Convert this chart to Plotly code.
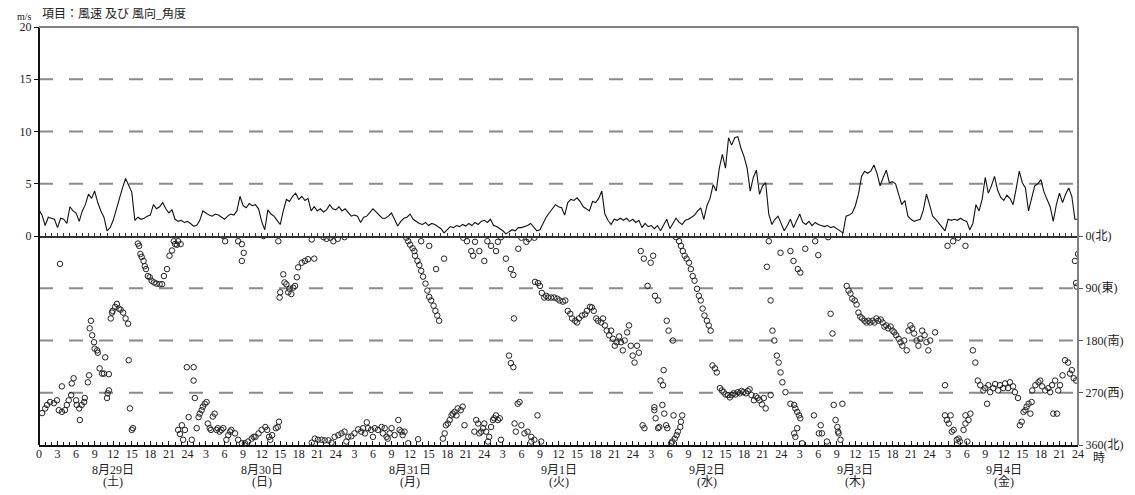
import plotly.graph_objects as go

# ---------------- data ----------------
# wind speed (m/s), 30-minute steps, one list per day (hour 0.0 ... 23.5)
speed_0829 = [2.5, 2.0, 1.0, 1.8, 1.7, 1.6, 0.8, 1.7, 1.6, 1.2,
              2.8, 2.4, 2.2, 1.4, 2.4, 3.0, 4.0, 3.6, 4.3, 3.2,
              2.4, 1.8, 0.5, 0.8, 1.5, 2.6, 3.5, 4.6, 5.5, 4.8,
              4.2, 1.5, 1.8, 1.6, 1.7, 1.9, 2.0, 3.0, 2.6, 2.8,
              3.2, 2.6, 2.2, 2.5, 1.6, 1.4, 1.5, 1.3]
speed_0830 = [1.4, 1.2, 0.95, 1.0, 1.5, 2.4, 2.2, 2.0, 1.9, 2.1,
              2.0, 1.8, 1.6, 1.9, 2.1, 2.0, 2.4, 3.8, 2.9, 2.7,
              3.1, 2.9, 3.0, 2.6, 1.4, 0.6, 2.5, 2.1, 1.9, 1.5,
              1.1, 2.4, 3.5, 3.3, 3.8, 4.1, 3.5, 3.8, 3.4, 3.6,
              2.4, 2.8, 2.4, 2.6, 2.3, 2.5, 3.0, 2.6]
speed_0831 = [2.5, 2.8, 2.4, 2.6, 2.3, 1.9, 2.0, 1.9, 1.3, 1.8,
              1.9, 2.2, 2.6, 2.3, 2.0, 1.7, 1.7, 1.9, 2.2, 1.5,
              0.95, 1.4, 1.7, 1.8, 2.1, 1.6, 1.4, 1.2, 1.1, 1.3,
              1.0, 1.2, 1.1, 0.9, 0.7, 0.3, 0.6, 0.9, 0.8, 1.0,
              0.9, 1.1, 0.95, 1.2, 1.0, 1.3, 1.1, 1.4]
speed_0901 = [1.5, 1.3, 1.6, 1.0, 0.9, 0.7, 0.5, 0.2, 0.4, 0.6,
              0.5, 0.8, 0.8, 0.9, 1.0, 1.2, 0.9, 0.5, 0.6, 1.2,
              1.8, 2.2, 2.6, 3.0, 2.8, 2.7, 2.0, 3.2, 3.5, 3.4,
              3.65, 3.3, 2.8, 2.6, 2.4, 3.3, 3.2, 3.6, 4.3, 2.1,
              1.5, 1.1, 1.6, 1.5, 1.7, 1.5, 1.7, 1.4]
speed_0902 = [1.6, 1.3, 1.5, 0.8, 1.2, 0.9, 1.0, 0.7, 1.0, 0.5,
              1.0, 1.6, 0.7, 1.2, 1.7, 1.3, 1.1, 1.5, 1.6, 1.8,
              2.0, 2.4, 2.7, 1.6, 2.9, 3.6, 4.9, 4.3, 6.5, 7.8,
              6.5, 9.4, 8.7, 9.4, 9.5, 8.4, 7.6, 6.5, 4.3, 5.6,
              6.3, 4.0, 4.8, 5.1, 2.1, 1.1, 1.6, 1.9]
speed_0903 = [1.2, 0.5, 1.0, 1.6, 0.8, 1.5, 2.1, 1.3, 1.1, 1.4,
              1.0, 1.3, 1.1, 1.0, 0.9, 1.0, 0.8, 0.9, 0.7, 0.5,
              0.3, 1.9, 2.0, 2.2, 2.9, 4.0, 5.7, 6.2, 6.0, 6.2,
              6.8, 6.0, 4.8, 5.6, 6.3, 5.1, 5.2, 5.0, 4.0, 3.0,
              3.4, 1.9, 1.6, 1.4, 1.5, 1.6, 2.5, 4.0]
speed_0904 = [3.0, 1.9, 1.6, 1.2, 0.8, 0.5, 1.6, 1.5, 1.6, 1.5,
              1.7, 1.5, 1.4, 0.6, 1.2, 3.0, 2.4, 3.5, 5.6, 4.1,
              4.8, 5.7, 4.4, 3.7, 3.4, 3.9, 3.6, 3.0, 4.5, 6.2,
              5.1, 4.6, 2.4, 3.5, 4.8, 5.0, 5.4, 4.2, 3.5, 2.8,
              1.4, 3.0, 4.1, 3.2, 4.0, 4.6, 3.8, 1.6]
speed_last = [1.6]  # hour 168

# wind direction (degrees), observation hour counted from 8/29 0:00
dir_hour = [
    # 8/29
    0.5, 1.0, 1.3, 1.8, 2.4, 2.9, 3.2, 3.7, 3.4, 3.7, 4.2, 4.5, 4.8, 5.2, 5.3, 5.6, 6.0, 6.1, 6.5, 6.6,
    6.9, 7.3, 7.4, 7.9, 8.1, 8.2, 8.4, 8.6, 8.9, 9.0, 9.4, 9.5, 9.8, 10.2, 10.5, 10.7, 11.0, 11.1, 11.3, 11.3,
    11.6, 11.8, 11.9, 12.3, 12.6, 12.9, 13.2, 13.6, 14.0, 14.4, 14.5, 14.7, 15.0, 15.2,
    16.0, 16.2, 16.4, 16.6, 16.9, 17.1, 17.3, 17.6, 17.9, 18.2, 18.6, 19.0, 19.5, 19.9, 20.2, 20.7, 21.1,
    21.5, 21.8, 22.0, 22.3, 22.5, 22.9,
    22.5, 22.8, 23.1, 23.3, 23.6, 23.9,
    # 8/30
    24.2, 24.7, 25.0, 25.0, 25.2, 25.5, 25.8, 26.0, 26.3, 26.5, 26.8, 27.1, 27.3, 27.6, 27.8, 28.1, 28.4,
    28.7, 28.9, 29.2, 29.5, 29.8, 30.3, 30.6, 30.9, 31.1, 31.7, 32.2, 32.8, 33.3, 33.8, 34.4, 34.7, 35.0,
    35.5, 36.0, 36.6, 36.9, 37.2, 37.4, 37.7, 38.3, 38.6, 38.8,
    29.8, 30.1, 32.2, 32.8, 33.1, 32.8, 36.3, 38.7, 38.9, 39.0, 39.5, 39.7, 40.0, 40.3, 40.5, 40.8, 41.1,
    41.4, 41.7, 41.9, 42.5, 43.0, 43.5, 44.1, 44.5, 46.0, 46.5, 47.1, 47.6,
    # 8/31
    48.3, 49.4,
    44.1, 44.6, 45.1, 45.7, 46.2, 46.8, 47.3, 47.8, 48.4, 48.9, 49.4, 49.7, 50.0, 50.5, 51.0, 51.6, 52.1,
    52.4, 52.7, 53.0, 53.2, 53.7, 54.0, 54.3, 54.8, 55.4, 55.6, 55.9, 56.2, 56.4, 56.7, 57.0, 57.5, 58.1,
    58.3, 58.6, 58.8, 59.1, 59.7, 61.3,
    59.4, 59.7, 60.0, 60.4, 60.7, 60.8, 61.2, 61.5, 61.8, 62.1, 62.5, 62.8, 63.1, 63.4, 63.8, 64.1, 64.4,
    64.7, 65.5, 64.2, 63.1, 61.8,
    65.3, 65.6, 65.8, 66.1, 66.4, 66.7, 66.9, 67.2, 67.5, 67.7, 68.2, 68.5, 68.8, 70.4, 70.7, 71.0, 71.2,
    71.5, 71.8,
    68.6, 69.2, 69.9, 70.2, 70.5, 71.2,
    # 9/1
    72.0, 72.3, 72.6, 72.8, 73.1, 73.4, 73.6, 73.9, 74.2, 74.5, 74.7, 76.9, 77.1, 77.4, 77.7, 78.0, 78.5,
    79.0, 79.6, 80.1, 80.6, 81.2, 79.6,
    72.0, 72.5, 73.1, 73.9, 74.2, 74.7, 75.5, 76.3, 76.7, 77.5, 78.0, 78.8, 79.2, 80.1,
    76.0, 76.3, 76.7, 76.8, 80.2, 80.7, 81.0, 81.3, 81.7, 82.0, 82.3, 82.8, 83.3, 83.8, 84.2, 84.7, 85.1,
    85.5, 85.9, 86.2, 86.7, 87.0, 87.3, 87.8, 88.3, 88.6, 89.1, 89.4, 89.7, 90.1, 90.4, 90.9, 91.2, 91.5,
    91.8, 92.2, 92.5, 92.8, 93.1, 93.4, 93.8, 94.1, 94.4, 94.7, 95.1, 95.4, 95.7, 96.0, 96.3, 96.7, 97.0,
    # 9/2
    97.6, 97.9, 99.5, 99.5, 99.7, 100.3, 100.1, 100.8, 101.1, 101.4, 101.6, 102.2, 102.4, 102.6, 102.8,
    103.1, 103.3, 103.7, 103.8, 104.0,
    97.3, 97.8, 98.4, 98.9, 99.3, 99.6, 100.1, 100.5, 100.9, 101.0, 101.5, 101.8, 102.5,
    103.0, 103.5, 103.8, 104.1, 104.4, 104.7, 105.1, 105.4, 105.7, 106.0, 106.4, 106.7, 107.0, 107.3,
    107.6, 108.0, 108.3, 108.6, 108.9, 109.3, 109.6, 110.1, 110.4, 110.7, 111.0, 111.4, 111.7, 112.0,
    112.3, 112.6, 113.0, 113.3, 113.6, 113.9, 114.3, 114.6, 114.9, 115.2, 115.6, 115.9, 116.2, 116.5,
    116.9, 117.2, 117.5, 117.7, 118.0, 118.3, 118.6, 118.9, 119.3, 119.6, 119.9, 120.2, 120.7, 118.3,
    # 9/3
    121.5, 122.1, 122.3, 122.6, 122.9, 123.1, 122.1, 122.3, 122.6, 123.4, 125.3, 126.4, 126.1, 126.6,
    127.4, 128.5, 128.8, 129.1, 129.2, 129.3, 129.6, 129.9,
    119.9, 121.5, 122.0, 122.7, 123.1, 123.9, 125.5, 126.0, 127.6, 128.0, 128.3,
    130.6, 130.9, 131.2, 131.5, 131.9, 132.2, 132.5, 132.8, 133.1, 133.5, 133.8, 134.1, 134.4, 134.8,
    135.1, 135.4, 135.7, 136.1, 136.4, 136.7, 137.0, 137.3, 137.7, 138.0, 138.3, 138.6, 139.0, 139.3,
    139.6, 139.9, 140.3, 140.6, 140.9, 141.2, 141.5, 141.9, 142.2, 142.5, 142.8, 143.2, 143.5, 143.8,
    144.1, 144.9, 146.5,
    # 9/4
    146.5, 146.8, 147.1, 147.4, 147.6, 147.9, 148.4, 148.7, 148.9, 149.5, 149.8, 150.1, 149.8, 150.3,
    150.6, 153.3, 158.6, 158.9, 159.2, 159.5, 159.7, 160.0, 160.3, 160.5, 164.0, 164.6,
    146.9, 147.8, 148.6, 149.8,
    151.0, 151.4, 151.8, 152.2, 152.7, 153.0, 153.5, 153.8, 154.3, 154.6, 155.1, 155.4, 155.9, 156.2,
    156.7, 157.0, 157.5, 157.8, 158.3, 160.6, 161.1, 161.6, 161.9, 162.2, 162.7, 163.2, 163.5, 163.8,
    164.3, 164.8, 165.1, 165.5, 165.9, 166.4, 166.7, 167.0, 167.3, 167.7, 167.5, 168.0, 167.7, 167.8,
]
dir_deg = [
    # 8/29
    305, 297, 291, 286, 288, 283, 300, 303, 48, 259, 300, 291, 283, 274, 254, 245, 283, 291, 297, 317,
    291, 286, 279, 252, 240, 159, 146, 171, 183, 194, 197, 201, 228, 237, 237, 209, 279, 271, 266, 238,
    142, 132, 129, 122, 117, 125, 127, 132, 142, 151, 214, 297, 334, 331,
    13, 17, 31, 36, 43, 52, 57, 69, 71, 77, 80, 82, 83, 83, 69, 57, 34,
    25, 9, 14, 15, 9, 14,
    334, 341, 326, 351, 334, 226,
    # 8/30
    312, 351, 249, 226, 279, 331, 312, 306, 300, 294, 289, 286, 323, 331, 334, 311, 306,
    334, 331, 337, 334, 331, 351, 343, 337, 334, 340, 351, 357, 357, 354, 349, 346, 346,
    340, 334, 329, 334, 346, 351, 343, 331, 329, 320,
    0, 9, 9, 14, 29, 43, 0, 9, 106, 97, 66, 80, 83, 97, 91, 100, 89,
    86, 71, 54, 46, 43, 40, 6, 39, 2, 5, 3, 9,
    # 8/31
    5, 2,
    356, 349, 351, 351, 352, 352, 356, 346, 343, 340, 337, 354, 346, 345, 340, 333, 337,
    331, 340, 321, 331, 334, 346, 331, 334, 329, 340, 331, 346, 349, 340, 331, 343, 317,
    334, 337, 343, 337, 357, 350,
    3, 9, 15, 21, 26, 34, 43, 50, 60, 70, 82, 94, 105, 111, 120, 129, 137,
    146, 39, 57, 17, 9,
    349, 340, 326, 323, 317, 309, 306, 303, 309, 297, 300, 294, 326, 337, 317, 323, 340,
    337, 331,
    3, 9, 26, 34, 10, 26,
    # 9/1
    323, 337, 354, 346, 329, 317, 314, 309, 317, 314, 351, 323, 337, 289, 286, 326, 340,
    337, 346, 351, 309, 354, 354,
    43, 9, 17, 26, 10, 2, 39, 57, 67, 22, 3, 10, 5, 3,
    206, 219, 226, 142, 79, 81, 86, 98, 106, 103, 106, 106, 106, 108, 111, 113, 111,
    129, 134, 142, 146, 149, 142, 137, 135, 129, 122, 123, 129, 142, 146, 149, 142, 154,
    163, 171, 163, 177, 189, 183, 173, 183, 197, 180, 166, 154, 189, 206, 218, 189, 201,
    # 9/2
    326, 331, 295, 300, 314, 329, 331, 291, 306, 326, 331, 357, 354, 309, 349,
    343, 337, 329, 320, 309,
    26, 39, 86, 46, 34, 103, 111, 249, 257, 231, 146, 163, 180,
    2, 9, 17, 26, 34, 39, 46, 57, 69, 77, 91, 103, 111, 125,
    137, 146, 154, 163, 223, 228, 235, 262, 266, 269, 273, 274, 278, 274,
    271, 273, 269, 271, 267, 269, 271, 267, 264, 274, 283, 276, 279, 283,
    290, 279, 297, 53, 9, 111, 163, 180, 206, 218, 235, 252, 269, 274,
    # 9/3
    289, 291, 297, 303, 309, 314, 340, 346, 331, 357, 309, 326, 340, 340,
    354, 291, 317, 329, 337, 340, 351, 289,
    29, 26, 43, 57, 63, 22, 9, 33, 2, 134, 168,
    86, 94, 99, 108, 111, 118, 132, 139, 142, 146, 149, 146, 149, 146,
    149, 142, 146, 144, 149, 156, 154, 159, 156, 163, 166, 171, 177, 183,
    189, 180, 197, 163, 154, 159, 168, 180, 189, 177, 163, 171, 183, 197,
    180, 166, 257,
    # 9/4
    309, 317, 323, 309, 337, 334, 351, 349, 354, 334, 323, 354, 309, 317,
    306, 289, 326, 320, 303, 300, 294, 289, 306, 286, 306, 306,
    17, 9, 3, 17,
    197, 218, 249, 257, 266, 262, 257, 269, 262, 255, 266, 257, 262, 254,
    262, 252, 259, 269, 279, 266, 257, 252, 249, 259, 266, 262, 269, 257,
    249, 266, 257, 240, 214, 218, 237, 231, 245, 249, 43, 31, 81, 87,
]

speed_grid = [5, 10, 15]
dir_grid = [90, 180, 270]
speed_ticks = [0, 5, 10, 15, 20]
dir_ticks = [0, 90, 180, 270, 360]
dir_tick_text = ["0(北)", "90(東)", "180(南)", "270(西)", "360(北)"]
day_labels = ["8月29日", "8月30日", "8月31日", "9月1日", "9月2日", "9月3日", "9月4日"]
weekday_labels = ["(土)", "(日)", "(月)", "(火)", "(水)", "(木)", "(金)"]

# ---------------- build ----------------
speed = speed_0829 + speed_0830 + speed_0831 + speed_0901 + speed_0902 + speed_0903 + speed_0904 + speed_last
speed_hours = [i * 0.5 for i in range(len(speed))]

hour_ticks = list(range(0, 169, 3))
hour_text = [("0" if h == 0 else ("24" if h % 24 == 0 else str(h % 24))) for h in hour_ticks]

FONT = "Times New Roman, Liberation Serif, DejaVu Serif, Noto Sans CJK JP, serif"
TXT = "#222222"

fig = go.Figure()
fig.add_trace(go.Scatter(
    x=speed_hours, y=speed, mode="lines", xaxis="x2", yaxis="y",
    line=dict(color="#111111", width=1.1), showlegend=False, hoverinfo="skip"))
fig.add_trace(go.Scatter(
    x=dir_hour, y=dir_deg, mode="markers", xaxis="x", yaxis="y2",
    marker=dict(symbol="circle-open", size=5.5, color="#222222", line=dict(width=1)),
    showlegend=False, hoverinfo="skip"))

shapes = []
for g in speed_grid:
    shapes.append(dict(type="line", xref="x domain", yref="y", x0=0, x1=1, y0=g, y1=g,
                       line=dict(color="#8a8a8a", width=2, dash="14px,16px"), layer="below"))
for g in dir_grid:
    shapes.append(dict(type="line", xref="x domain", yref="y2", x0=0, x1=1, y0=g, y1=g,
                       line=dict(color="#8a8a8a", width=2, dash="14px,16px"), layer="below"))
# frame
shapes.append(dict(type="line", xref="paper", yref="paper", x0=0, x1=0, y0=0, y1=1,
                   line=dict(color="#111111", width=2)))
shapes.append(dict(type="line", xref="paper", yref="paper", x0=1, x1=1, y0=0, y1=1,
                   line=dict(color="#808080", width=2)))
shapes.append(dict(type="line", xref="paper", yref="paper", x0=0, x1=1, y0=1, y1=1,
                   line=dict(color="#808080", width=2)))
# partially visible legend box on the right
shapes.append(dict(type="rect", xref="paper", yref="paper", x0=1.048, x1=1.08, y0=0.8, y1=1.0,
                   line=dict(color="#444444", width=1)))

annotations = [
    dict(text="m/s", xref="paper", yref="paper", x=-0.014, y=1.026, xanchor="center", yanchor="middle",
         showarrow=False, font=dict(family=FONT, size=10, color=TXT)),
    dict(text="項目：風速 及び 風向_角度", xref="paper", yref="paper", x=0.001, y=1.01,
         xanchor="left", yanchor="bottom", showarrow=False, font=dict(family=FONT, size=12, color=TXT)),
    dict(text="時", xref="paper", yref="paper", x=1.02, y=-0.031, xanchor="center", yanchor="middle",
         showarrow=False, font=dict(family=FONT, size=12, color=TXT)),
]
for d, (dl, wl) in enumerate(zip(day_labels, weekday_labels)):
    annotations.append(dict(text=dl, xref="x", yref="paper", x=12 + 24 * d, y=-0.059,
                            xanchor="center", yanchor="middle", showarrow=False,
                            font=dict(family=FONT, size=12, color=TXT)))
    annotations.append(dict(text=wl, xref="x", yref="paper", x=12 + 24 * d, y=-0.089,
                            xanchor="center", yanchor="middle", showarrow=False,
                            font=dict(family=FONT, size=12, color=TXT)))

# the page body adds an 8px offset, so the figure is drawn 8px smaller
fig.update_layout(
    width=1127, height=487,
    margin=dict(l=29, r=57, t=17, b=50),
    paper_bgcolor="white", plot_bgcolor="white",
    font=dict(family=FONT, size=12, color=TXT),
    xaxis=dict(domain=[0, 1], anchor="y2", range=[0, 168], tickmode="array",
               tickvals=hour_ticks, ticktext=hour_text, ticks="inside", ticklen=4,
               tickcolor="#111", minor=dict(tickmode="linear", tick0=0, dtick=1, ticks="inside",
                                            ticklen=3, tickcolor="#111"),
               showline=True, linecolor="#111", linewidth=2, showgrid=False, zeroline=False,
               ticklabelstandoff=-3,
               tickfont=dict(family=FONT, size=12, color=TXT)),
    xaxis2=dict(domain=[0, 1], anchor="y", matches="x", showticklabels=False,
                tickmode="linear", tick0=0, dtick=1, ticks="inside", ticklen=3, tickcolor="#333",
                showline=True, linecolor="#333", linewidth=1.5, showgrid=False, zeroline=False),
    yaxis=dict(domain=[0.5, 1], anchor="x2", range=[0, 20], tickmode="array", tickvals=speed_ticks,
               ticks="outside", ticklen=4, tickcolor="#111", showline=False, showgrid=False,
               zeroline=False, tickfont=dict(family=FONT, size=12, color=TXT)),
    yaxis2=dict(domain=[0, 0.5], anchor="x", range=[360, 0], side="right", tickmode="array",
                tickvals=dir_ticks, ticktext=dir_tick_text, ticks="outside", ticklen=4,
                tickcolor="#555", showline=False, showgrid=False, zeroline=False,
                tickfont=dict(family=FONT, size=12, color=TXT)),
    shapes=shapes,
    annotations=annotations,
)

fig.write_html("out.html")
